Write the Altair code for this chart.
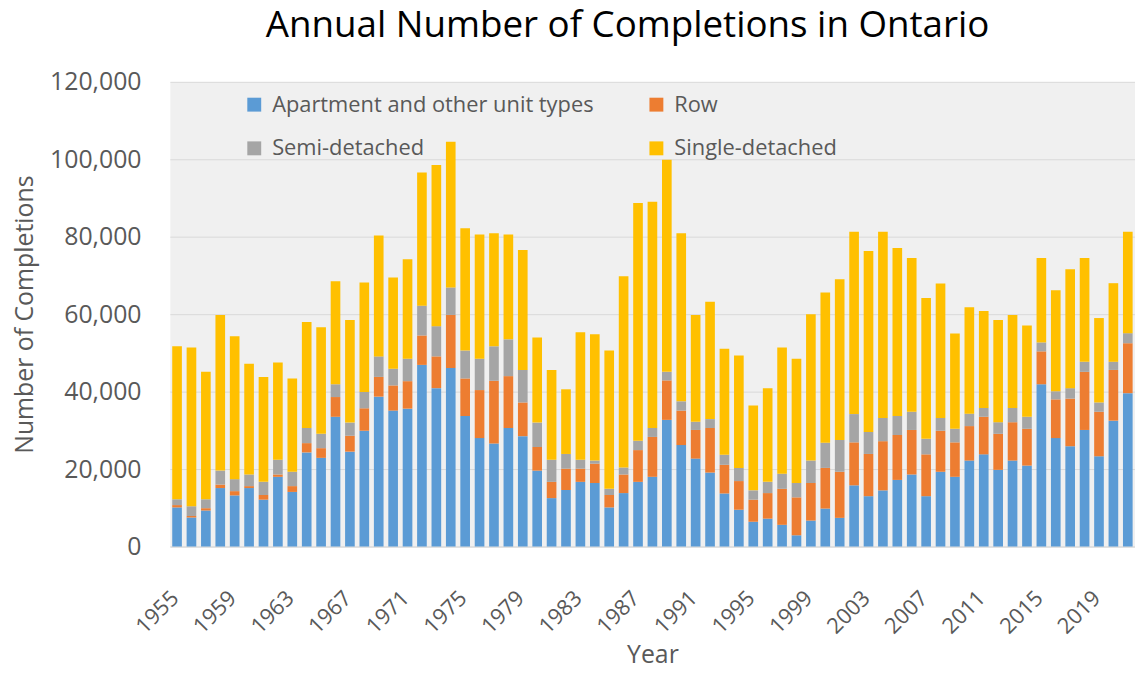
import altair as alt
import pandas as pd

years = list(range(1955, 2022))
apartment = [10100, 7500, 9300, 15100, 13200, 15100, 12100, 18000, 14100, 24300,
             22900, 33500, 24500, 29900, 38700, 35100, 35600, 46900, 40900, 46100,
             33700, 28000, 26600, 30600, 28500, 19600, 12500, 14600, 16700, 16400,
             10100, 13800, 16700, 18000, 32700, 26200, 22700, 19100, 13700, 9500,
             6400, 7200, 5600, 2900, 6700, 9800, 7400, 15800, 13000, 14500,
             17200, 18600, 13000, 19300, 18000, 22200, 23800, 19800, 22200, 20900,
             41900, 28000, 25900, 30100, 23300, 32500, 39600]
row = [600, 400, 600, 900, 1100, 500, 1200, 600, 1500, 2400,
       2500, 5100, 4100, 5800, 5100, 6500, 7100, 7600, 8200, 13700,
       9700, 12400, 16200, 13400, 8700, 6100, 4200, 5500, 3400, 5000,
       3200, 4800, 8200, 10300, 10200, 8900, 7400, 11500, 7400, 7400,
       5700, 6600, 9300, 9800, 9700, 10500, 11900, 11100, 10900, 12700,
       11600, 11500, 10800, 10600, 8900, 8900, 9700, 9300, 9900, 9500,
       8500, 10000, 12300, 15000, 11500, 13100, 12900]
semi = [1500, 2500, 2300, 3600, 3100, 3000, 3400, 3800, 3700, 3900,
        3700, 3300, 3400, 4200, 5300, 4300, 5800, 7700, 7800, 7100,
        7200, 8100, 8900, 9500, 8400, 6300, 5700, 3800, 2300, 800,
        1600, 1800, 2400, 2300, 2200, 2400, 2100, 2300, 2600, 3400,
        2400, 2900, 3900, 3700, 5800, 6500, 8200, 7300, 5700, 6000,
        4900, 4700, 4000, 3300, 3500, 3200, 2300, 3000, 3700, 3100,
        2300, 2100, 2700, 2600, 2400, 2100, 2600]
single = [39500, 41000, 32900, 40200, 36900, 28600, 27100, 25100, 24100, 27400,
          27500, 26600, 26500, 28300, 31200, 23600, 25700, 34400, 41600, 37600,
          31600, 32100, 29200, 27100, 31000, 22000, 23200, 16700, 32900, 32600,
          35700, 49400, 61400, 58400, 54800, 43400, 27600, 30300, 27400, 29000,
          21900, 24200, 32600, 32100, 37800, 38800, 41500, 47100, 46700, 48100,
          43400, 39700, 36400, 34700, 24600, 27500, 25000, 26400, 24000, 23600,
          21800, 26100, 30700, 26800, 21800, 20300, 26200]

# stacking order (bottom -> top)
series_names = ["Apartment and other unit types", "Row", "Semi-detached", "Single-detached"]
series_colors = ["#5B9BD5", "#ED7D31", "#A5A5A5", "#FFC000"]
# legend order (legend fills column by column)
legend_order = ["Apartment and other unit types", "Semi-detached", "Row", "Single-detached"]
legend_colors = [series_colors[series_names.index(n)] for n in legend_order]
tick_years = list(range(1955, 2022, 4))
y_ticks = [0, 20000, 40000, 60000, 80000, 100000, 120000]

records = []
for i, yr in enumerate(years):
    for k, (name, vals) in enumerate(zip(series_names, [apartment, row, semi, single])):
        records.append({"Year": yr, "Type": name, "Units": vals[i], "ord": k})
df = pd.DataFrame(records)

FONT = "Open Sans"
GREY = "#595959"

chart = alt.Chart(df).mark_bar().encode(
    x=alt.X("Year:O",
            scale=alt.Scale(paddingInner=0.33, paddingOuter=0.165),
            axis=alt.Axis(values=tick_years, labelAngle=-45, labelAlign="right",
                          labelBaseline="middle", labelOffset=-2, labelPadding=48,
                          tickSize=0, domainColor="#D9D9D9", labelFontSize=22,
                          labelColor=GREY, labelFont=FONT, title="Year",
                          titleFontSize=25, titleFontWeight="normal", titleColor=GREY,
                          titleFont=FONT, titleY=109, titleBaseline="middle", grid=False)),
    y=alt.Y("Units:Q", stack="zero",
            scale=alt.Scale(domain=[0, 120000]),
            axis=alt.Axis(values=y_ticks, format=",.0f", tickSize=0, domain=False,
                          labelPadding=29, labelFontSize=25, labelColor=GREY, labelFont=FONT,
                          gridColor="#D9D9D9", title="Number of Completions",
                          titleFontSize=25, titleFontWeight="normal", titleColor=GREY,
                          titleFont=FONT, titleX=-146, titleY=234, titleAngle=-90,
                          titleBaseline="middle", titleAlign="center")),
    color=alt.Color("Type:N",
                    scale=alt.Scale(domain=legend_order, range=legend_colors),
                    legend=alt.Legend(orient="none", legendX=74, legendY=12, columns=2,
                                      symbolType="square", symbolSize=196,
                                      symbolStrokeWidth=0, labelFontSize=22,
                                      labelFont=FONT, labelColor=GREY, labelOffset=7,
                                      labelLimit=500, columnPadding=52, rowPadding=22,
                                      title=None, padding=0)),
    order=alt.Order("ord:Q", sort="ascending"),
).properties(
    width=972,
    height=468,
    title=alt.TitleParams(text="Annual Number of Completions in Ontario", fontSize=37,
                          font=FONT, fontWeight="normal", color="black",
                          anchor="middle", dx=-25, dy=35, offset=23, baseline="bottom"),
    padding={"left": 163, "top": 72, "right": 0, "bottom": 120},
    autosize="none",
).configure_view(fill="#F0F0F0", stroke="transparent")

chart.save("out.html", embed_options={"renderer": "svg", "actions": False})
